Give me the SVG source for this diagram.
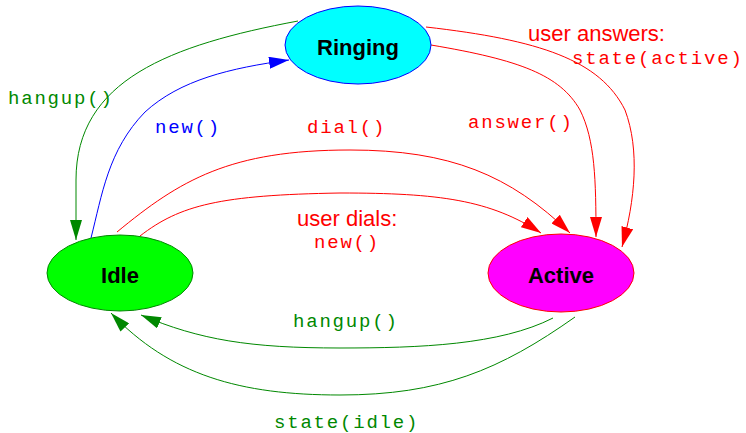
<svg xmlns="http://www.w3.org/2000/svg" width="746" height="433" viewBox="0 0 746 433">
<style>
.e{fill:none;stroke-width:1}
.mono{font-family:"Liberation Mono",monospace;font-size:19px;letter-spacing:1.8px}
.sans{font-family:"Liberation Sans",Arial,sans-serif;font-size:22px}
.node{font-family:"Liberation Sans",Arial,sans-serif;font-size:22px;font-weight:bold;text-anchor:middle;fill:#000}
</style>
<defs>
<marker id="ag" markerUnits="userSpaceOnUse" markerWidth="20" markerHeight="12" refX="20" refY="6" orient="auto"><path d="M0,0 L20,6 L0,12 z" fill="#008800"/></marker>
<marker id="ab" markerUnits="userSpaceOnUse" markerWidth="20" markerHeight="12" refX="20" refY="6" orient="auto"><path d="M0,0 L20,6 L0,12 z" fill="#0000ff"/></marker>
<marker id="ar" markerUnits="userSpaceOnUse" markerWidth="20" markerHeight="12" refX="20" refY="6" orient="auto"><path d="M0,0 L20,6 L0,12 z" fill="#ff0000"/></marker>
</defs>
<rect width="746" height="433" fill="#fff"/>
<g id="connectors">
<path class="e" stroke="#008800" marker-end="url(#ag)" d="M298,21 C170,45 76,80 76,180 L76,240"/>
<path class="e" stroke="#0000ff" marker-end="url(#ab)" d="M91,238 C102,195 108,150 145,112 C180,80 230,68 289,60"/>
<path class="e" stroke="#ff0000" marker-end="url(#ar)" d="M117,232 C180,180 230,150 350,150 C450,150 510,175 570,233"/>
<path class="e" stroke="#ff0000" marker-end="url(#ar)" d="M140,236 C180,205 220,195 340,193 C440,193 490,200 541,233"/>
<path class="e" stroke="#ff0000" marker-end="url(#ar)" d="M431,45 C520,60 560,75 580,110 C595,140 596,180 596,237"/>
<path class="e" stroke="#ff0000" marker-end="url(#ar)" d="M426,27 C540,40 600,60 625,110 C640,150 635,200 622,247"/>
<path class="e" stroke="#008800" marker-end="url(#ag)" d="M553,318 C500,345 420,348 340,348 C250,348 200,340 141,315"/>
<path class="e" stroke="#008800" marker-end="url(#ag)" d="M575,317 C500,370 440,395 340,395 C240,395 170,375 111,313"/>
</g>
<g id="ringing"><ellipse cx="358" cy="45" rx="73" ry="39" fill="#00ffff" stroke="#0000ff"/><text class="node" x="358" y="55">Ringing</text></g>
<g id="idle"><ellipse cx="120" cy="273" rx="73" ry="38" fill="#00ff00" stroke="#008800"/><text class="node" x="120" y="283">Idle</text></g>
<g id="active"><ellipse cx="561" cy="273" rx="73" ry="39" fill="#ff00ff" stroke="#ff0000"/><text class="node" x="561" y="283">Active</text></g>
<g id="labels">
<text class="mono" x="8" y="104" fill="#008800">hangup()</text>
<text class="mono" x="155" y="133" fill="#0000ff">new()</text>
<text class="mono" x="307" y="133" fill="#ff0000">dial()</text>
<text class="mono" x="468" y="128" fill="#ff0000">answer()</text>
<text class="sans" x="528" y="41" fill="#ff0000">user answers:</text>
<text class="mono" x="572" y="64" fill="#ff0000">state(active)</text>
<text class="sans" x="297" y="226" fill="#ff0000">user dials:</text>
<text class="mono" x="314" y="248" fill="#ff0000">new()</text>
<text class="mono" x="293" y="327" fill="#008800">hangup()</text>
<text class="mono" x="274" y="428" fill="#008800">state(idle)</text>
</g>
</svg>
